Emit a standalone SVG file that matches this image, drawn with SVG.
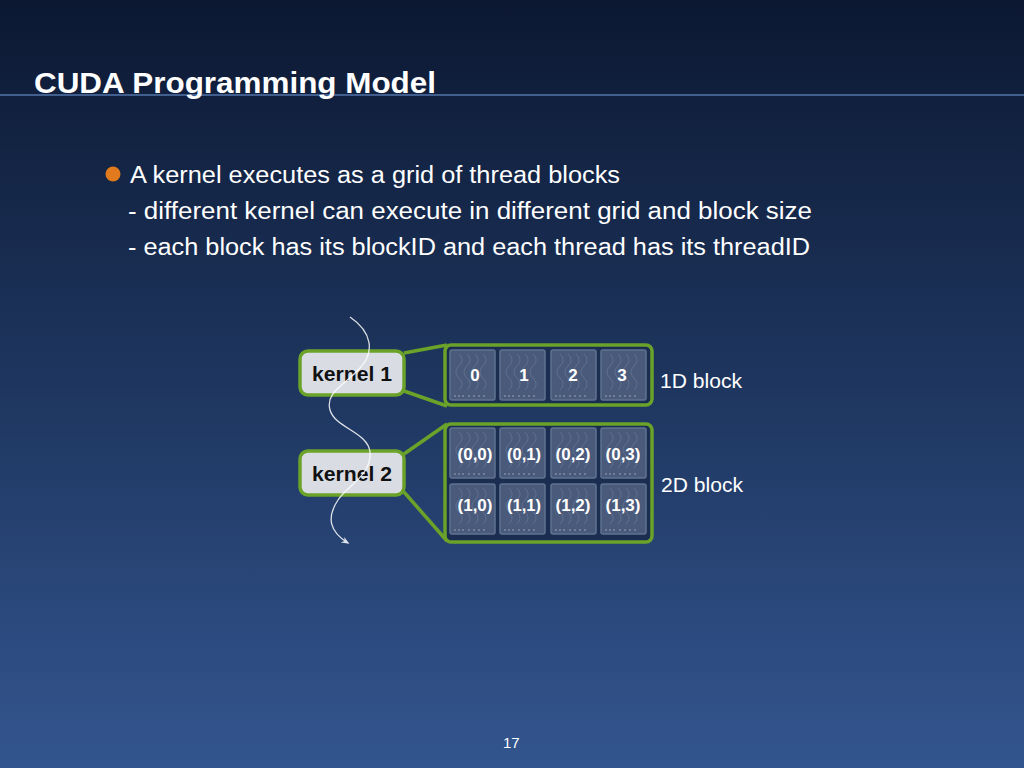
<svg xmlns="http://www.w3.org/2000/svg" xmlns:xlink="http://www.w3.org/1999/xlink" width="1024" height="768" viewBox="0 0 1024 768">
<defs>
<linearGradient id="bg" x1="0" y1="0" x2="0" y2="1">
<stop offset="0" stop-color="#0c1832"/>
<stop offset="0.5" stop-color="#1e365f"/>
<stop offset="1" stop-color="#33558f"/>
</linearGradient>
<marker id="arr" viewBox="0 0 10 10" refX="8" refY="5" markerWidth="8" markerHeight="8" orient="auto" markerUnits="userSpaceOnUse">
<path d="M0,1 L10,5 L0,9 L3,5 Z" fill="#ffffff"/>
</marker>
<g id="cell">
<rect x="0" y="0" width="45" height="50" rx="2" fill="#4a5a7b" stroke="#5f7390" stroke-width="1.5"/>
<g fill="none" stroke="#9aa8c4" stroke-width="0.8" opacity="0.35">
<path d="M9,4 c4,4 4,8 0,12 c-4,4 -4,8 0,12 c4,4 4,8 0,12"/>
<path d="M17,4 c4,4 4,8 0,12 c-4,4 -4,8 0,12 c4,4 4,8 0,12"/>
<path d="M25,4 c4,4 4,8 0,12 c-4,4 -4,8 0,12 c4,4 4,8 0,12"/>
<path d="M33,4 c4,4 4,8 0,12 c-4,4 -4,8 0,12 c4,4 4,8 0,12"/>
</g>
<g fill="#c8d2e6" opacity="0.7">
<circle cx="5" cy="46" r="0.8"/><circle cx="9" cy="46" r="0.8"/><circle cx="13" cy="46" r="0.8"/><circle cx="19" cy="46" r="0.8"/><circle cx="24" cy="46" r="0.8"/><circle cx="29" cy="46" r="0.8"/><circle cx="34" cy="46" r="0.8"/>
</g>
</g>
</defs>
<style>
.title{font-family:"Liberation Sans",Arial,sans-serif;font-weight:bold;font-size:29px;fill:#ffffff}
.body{font-family:"Liberation Sans",Arial,sans-serif;font-size:23px;fill:#ffffff}
.kbox{fill:#d9dde3;stroke:#6aa22a;stroke-width:3.5}
.ktxt{font-family:"Liberation Sans",Arial,sans-serif;font-weight:bold;font-size:21px;fill:#111111;text-anchor:middle}
.outer{fill:#1b2e52;stroke:#6aa22a;stroke-width:3.5}
.ctxt{font-family:"Liberation Sans",Arial,sans-serif;font-weight:bold;font-size:17px;fill:#ffffff;text-anchor:middle}
.lbl{font-family:"Liberation Sans",Arial,sans-serif;font-size:20px;fill:#ffffff}
.conn{stroke:#6aa22a;stroke-width:3.5;fill:none}
</style>
<rect x="0" y="0" width="1024" height="768" fill="url(#bg)"/>
<line x1="0" y1="95" x2="1024" y2="95" stroke="#5274ab" stroke-width="1.5"/>
<text class="title" x="34" y="93" textLength="402" lengthAdjust="spacingAndGlyphs">CUDA Programming Model</text>
<circle cx="113" cy="174" r="7.5" fill="#e07a1c"/>
<text class="body" x="130" y="183" textLength="490" lengthAdjust="spacingAndGlyphs">A kernel executes as a grid of thread blocks</text>
<text class="body" x="128" y="219" textLength="684" lengthAdjust="spacingAndGlyphs">- different kernel can execute in different grid and block size</text>
<text class="body" x="128" y="255" textLength="682" lengthAdjust="spacingAndGlyphs">- each block has its blockID and each thread has its threadID</text>
<g id="connectors">
<line class="conn" x1="404" y1="353" x2="447" y2="345"/>
<line class="conn" x1="404" y1="391" x2="447" y2="406"/>
<line class="conn" x1="404" y1="454" x2="447" y2="424"/>
<line class="conn" x1="404" y1="492" x2="447" y2="541"/>
</g>
<g id="block1d">
<rect class="outer" x="445" y="345" width="207" height="60" rx="6"/>
<use xlink:href="#cell" x="450" y="350"/>
<use xlink:href="#cell" x="500" y="350"/>
<use xlink:href="#cell" x="551" y="350"/>
<use xlink:href="#cell" x="601" y="350"/>
<text class="ctxt" x="475" y="381">0</text>
<text class="ctxt" x="524" y="381">1</text>
<text class="ctxt" x="573" y="381">2</text>
<text class="ctxt" x="622" y="381">3</text>
</g>
<g id="block2d">
<rect class="outer" x="445" y="424" width="207" height="118" rx="6"/>
<use xlink:href="#cell" x="450" y="428"/>
<use xlink:href="#cell" x="500" y="428"/>
<use xlink:href="#cell" x="551" y="428"/>
<use xlink:href="#cell" x="601" y="428"/>
<use xlink:href="#cell" x="450" y="484"/>
<use xlink:href="#cell" x="500" y="484"/>
<use xlink:href="#cell" x="551" y="484"/>
<use xlink:href="#cell" x="601" y="484"/>
<text class="ctxt" x="475" y="460" textLength="35" lengthAdjust="spacingAndGlyphs">(0,0)</text>
<text class="ctxt" x="524" y="460" textLength="34" lengthAdjust="spacingAndGlyphs">(0,1)</text>
<text class="ctxt" x="573" y="460" textLength="35" lengthAdjust="spacingAndGlyphs">(0,2)</text>
<text class="ctxt" x="623" y="460" textLength="35" lengthAdjust="spacingAndGlyphs">(0,3)</text>
<text class="ctxt" x="475" y="511" textLength="35" lengthAdjust="spacingAndGlyphs">(1,0)</text>
<text class="ctxt" x="524" y="511" textLength="34" lengthAdjust="spacingAndGlyphs">(1,1)</text>
<text class="ctxt" x="573" y="511" textLength="35" lengthAdjust="spacingAndGlyphs">(1,2)</text>
<text class="ctxt" x="623" y="511" textLength="35" lengthAdjust="spacingAndGlyphs">(1,3)</text>
</g>
<g id="kernel1">
<rect class="kbox" x="300" y="351" width="104" height="44" rx="8"/>
<text class="ktxt" x="352" y="381" textLength="80" lengthAdjust="spacingAndGlyphs">kernel 1</text>
</g>
<g id="kernel2">
<rect class="kbox" x="300" y="451" width="104" height="44" rx="8"/>
<text class="ktxt" x="352" y="481" textLength="80" lengthAdjust="spacingAndGlyphs">kernel 2</text>
</g>
<path id="flow" d="M350,317 C372,332 375,352 360,368 C345,385 325,392 330,410 C335,428 368,432 370,452 C372,475 348,485 338,500 C326,518 330,532 348,543" fill="none" stroke="#ffffff" stroke-width="1.3" opacity="0.85" marker-end="url(#arr)"/>
<text class="lbl" x="660" y="388" textLength="82" lengthAdjust="spacingAndGlyphs">1D block</text>
<text class="lbl" x="661" y="492" textLength="82" lengthAdjust="spacingAndGlyphs">2D block</text>
<text x="503" y="748" font-family="Liberation Sans, Arial, sans-serif" font-size="15" fill="#ffffff">17</text>
</svg>
